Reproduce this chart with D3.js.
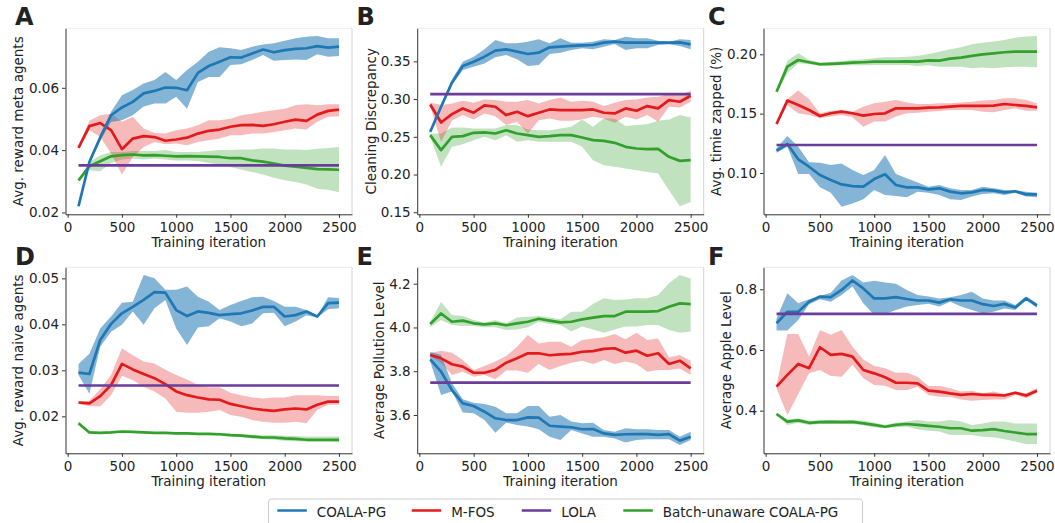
<!DOCTYPE html>
<html><head><meta charset="utf-8">
<script src="https://cdn.jsdelivr.net/npm/d3@7"></script>
<style>
body{margin:0;background:#fff}
svg{display:block}
text{font-family:"DejaVu Sans",sans-serif;fill:#222}
</style>
</head><body>
<svg id="chart" width="1055" height="523"></svg>
<script>
// ---------------- DATA ----------------
const iterations = [100,200,300,400,500,600,700,800,900,1000,1100,1200,1300,1400,1500,1600,1700,1800,1900,2000,2100,2200,2300,2400,2500];
const xTickValues = [0,500,1000,1500,2000,2500];
const seriesNames = ["COALA-PG","M-FOS","LOLA","Batch-unaware COALA-PG"];
const panelLetters = ["A","B","C","D","E","F"];
const yLabels = ["Avg. reward meta agents","Cleaning Discrepancy","Avg. timie zapped (%)","Avg. reward naive agents","Average Pollution Level","Average Apple Level"];
const xLabel = "Training iteration";
const yTicksA = [0.02,0.04,0.06];
const yTicksB = [0.15,0.20,0.25,0.30,0.35];
const yTicksC = [0.10,0.15,0.20];
const yTicksD = [0.02,0.03,0.04,0.05];
const yTicksE = [3.6,3.8,4.0,4.2];
const yTicksF = [0.4,0.6,0.8];
const lolaValues = [0.0351,0.3066,0.1236,0.0267,3.7477,0.7187];

// Panel A
const blueA   = [0.0220,0.0362,0.0440,0.0512,0.0537,0.0555,0.0582,0.0590,0.0601,0.0600,0.0592,0.0648,0.0670,0.0684,0.0698,0.0697,0.0710,0.0723,0.0714,0.0721,0.0725,0.0727,0.0734,0.0729,0.0732];
const blueA_lo= [0.0215,0.0355,0.0430,0.0490,0.0496,0.0512,0.0540,0.0550,0.0550,0.0571,0.0533,0.0619,0.0635,0.0635,0.0673,0.0676,0.0689,0.0705,0.0687,0.0689,0.0691,0.0689,0.0708,0.0700,0.0702];
const blueA_hi= [0.0225,0.0370,0.0450,0.0523,0.0576,0.0593,0.0614,0.0625,0.0651,0.0625,0.0657,0.0684,0.0716,0.0730,0.0727,0.0721,0.0732,0.0739,0.0743,0.0751,0.0759,0.0764,0.0766,0.0759,0.0759];
const redA    = [0.0407,0.0477,0.0487,0.0464,0.0403,0.0437,0.0445,0.0442,0.0430,0.0434,0.0440,0.0453,0.0462,0.0466,0.0475,0.0480,0.0481,0.0478,0.0483,0.0491,0.0498,0.0494,0.0514,0.0526,0.0530];
const redA_lo = [0.0404,0.0464,0.0442,0.0389,0.0322,0.0378,0.0410,0.0426,0.0419,0.0421,0.0416,0.0426,0.0432,0.0437,0.0448,0.0448,0.0453,0.0453,0.0458,0.0464,0.0469,0.0466,0.0491,0.0507,0.0509];
const redA_hi = [0.0410,0.0494,0.0512,0.0517,0.0491,0.0507,0.0469,0.0455,0.0453,0.0464,0.0469,0.0480,0.0496,0.0496,0.0501,0.0512,0.0517,0.0523,0.0528,0.0533,0.0544,0.0547,0.0544,0.0547,0.0547];
const greenA   = [0.0303,0.0348,0.0364,0.0380,0.0384,0.0386,0.0383,0.0384,0.0382,0.0380,0.0381,0.0380,0.0379,0.0378,0.0374,0.0374,0.0367,0.0363,0.0357,0.0350,0.0347,0.0343,0.0339,0.0338,0.0337];
const greenA_lo= [0.0300,0.0335,0.0332,0.0359,0.0370,0.0373,0.0370,0.0373,0.0370,0.0367,0.0367,0.0365,0.0359,0.0354,0.0346,0.0337,0.0330,0.0322,0.0311,0.0303,0.0298,0.0290,0.0276,0.0273,0.0265];
const greenA_hi= [0.0306,0.0362,0.0383,0.0394,0.0394,0.0397,0.0397,0.0397,0.0400,0.0394,0.0394,0.0394,0.0397,0.0400,0.0400,0.0402,0.0402,0.0405,0.0405,0.0402,0.0402,0.0400,0.0404,0.0407,0.0410];

// Panel B
const blueB   = [0.2566,0.2898,0.3217,0.3438,0.3496,0.3562,0.3642,0.3659,0.3628,0.3597,0.3615,0.3686,0.3695,0.3704,0.3712,0.3717,0.3748,0.3761,0.3748,0.3748,0.3748,0.3748,0.3748,0.3752,0.3726];
const blueB_lo= [0.2550,0.2870,0.3186,0.3385,0.3429,0.3473,0.3553,0.3584,0.3527,0.3438,0.3451,0.3597,0.3615,0.3650,0.3673,0.3659,0.3695,0.3730,0.3650,0.3673,0.3673,0.3717,0.3726,0.3704,0.3659];
const blueB_hi= [0.2580,0.2930,0.3261,0.3496,0.3562,0.3659,0.3783,0.3739,0.3739,0.3761,0.3792,0.3739,0.3805,0.3748,0.3748,0.3761,0.3792,0.3783,0.3827,0.3805,0.3805,0.3774,0.3761,0.3792,0.3783];
const redB    = [0.2929,0.2690,0.2801,0.2876,0.2819,0.2916,0.2898,0.2788,0.2832,0.2774,0.2819,0.2863,0.2854,0.2854,0.2854,0.2863,0.2819,0.2810,0.2876,0.2845,0.2907,0.2876,0.2987,0.2965,0.3044];
const redB_lo = [0.2910,0.2434,0.2712,0.2788,0.2730,0.2810,0.2774,0.2655,0.2699,0.2544,0.2721,0.2743,0.2712,0.2712,0.2730,0.2765,0.2743,0.2686,0.2765,0.2730,0.2788,0.2699,0.2898,0.2889,0.2965];
const redB_hi = [0.2950,0.2920,0.2942,0.2978,0.2951,0.2996,0.2987,0.2965,0.2965,0.2987,0.2942,0.2987,0.3022,0.2965,0.2978,0.2965,0.2907,0.2951,0.2987,0.2996,0.3022,0.3031,0.3066,0.3053,0.3111];
const greenB   = [0.2522,0.2323,0.2500,0.2509,0.2553,0.2558,0.2544,0.2588,0.2544,0.2522,0.2500,0.2509,0.2522,0.2522,0.2491,0.2456,0.2447,0.2420,0.2367,0.2345,0.2336,0.2341,0.2235,0.2181,0.2190];
const greenB_lo= [0.2500,0.2102,0.2367,0.2403,0.2456,0.2500,0.2456,0.2522,0.2434,0.2456,0.2434,0.2434,0.2434,0.2434,0.2367,0.2190,0.2124,0.2102,0.2080,0.2058,0.2035,0.2013,0.1792,0.1580,0.1637];
const greenB_hi= [0.2540,0.2544,0.2624,0.2624,0.2611,0.2611,0.2611,0.2655,0.2655,0.2597,0.2588,0.2588,0.2611,0.2633,0.2730,0.2633,0.2743,0.2743,0.2642,0.2655,0.2668,0.2712,0.2730,0.2788,0.2757];

// Panel C
const blueC   = [0.1188,0.1244,0.1115,0.1053,0.0983,0.0941,0.0904,0.0890,0.0885,0.0949,0.0989,0.0899,0.0879,0.0879,0.0862,0.0871,0.0843,0.0829,0.0837,0.0857,0.0851,0.0837,0.0846,0.0820,0.0820];
const blueC_lo= [0.1171,0.1222,0.0992,0.0992,0.0879,0.0834,0.0716,0.0744,0.0778,0.0857,0.0815,0.0806,0.0795,0.0843,0.0834,0.0815,0.0778,0.0772,0.0801,0.0823,0.0829,0.0815,0.0834,0.0801,0.0795];
const blueC_hi= [0.1208,0.1312,0.1222,0.1090,0.1087,0.1067,0.1081,0.1025,0.0983,0.1025,0.1152,0.0992,0.0955,0.0919,0.0885,0.0899,0.0871,0.0857,0.0857,0.0885,0.0871,0.0857,0.0851,0.0843,0.0834];
const redC    = [0.1413,0.1610,0.1573,0.1531,0.1480,0.1503,0.1517,0.1503,0.1483,0.1497,0.1503,0.1545,0.1545,0.1545,0.1551,0.1553,0.1559,0.1565,0.1565,0.1565,0.1567,0.1581,0.1573,0.1565,0.1553];
const redC_lo = [0.1405,0.1573,0.1503,0.1489,0.1461,0.1475,0.1489,0.1469,0.1390,0.1433,0.1433,0.1475,0.1503,0.1508,0.1517,0.1522,0.1531,0.1531,0.1531,0.1517,0.1511,0.1531,0.1545,0.1525,0.1525];
const redC_hi = [0.1421,0.1621,0.1694,0.1621,0.1503,0.1525,0.1531,0.1517,0.1559,0.1587,0.1601,0.1615,0.1593,0.1581,0.1581,0.1587,0.1587,0.1593,0.1601,0.1610,0.1615,0.1629,0.1629,0.1615,0.1587];
const greenC   = [0.1685,0.1896,0.1952,0.1933,0.1916,0.1919,0.1924,0.1930,0.1933,0.1938,0.1938,0.1938,0.1941,0.1938,0.1949,0.1947,0.1963,0.1972,0.1986,0.2000,0.2008,0.2017,0.2022,0.2022,0.2022];
const greenC_lo= [0.1675,0.1840,0.1924,0.1916,0.1902,0.1904,0.1907,0.1907,0.1907,0.1910,0.1910,0.1910,0.1910,0.1902,0.1907,0.1896,0.1896,0.1896,0.1882,0.1888,0.1882,0.1890,0.1896,0.1896,0.1890];
const greenC_hi= [0.1695,0.1947,0.2008,0.1952,0.1930,0.1935,0.1944,0.1952,0.1958,0.1966,0.1975,0.1975,0.1980,0.1986,0.2003,0.2022,0.2042,0.2059,0.2084,0.2098,0.2107,0.2121,0.2140,0.2149,0.2154];

// Panel D
const blueD   = [0.0295,0.0292,0.0366,0.0401,0.0424,0.0438,0.0453,0.0470,0.0469,0.0431,0.0418,0.0428,0.0425,0.0420,0.0422,0.0424,0.0430,0.0438,0.0438,0.0417,0.0420,0.0428,0.0417,0.0446,0.0447];
const blueD_lo= [0.0290,0.0249,0.0351,0.0384,0.0399,0.0428,0.0399,0.0435,0.0453,0.0391,0.0355,0.0393,0.0396,0.0413,0.0406,0.0396,0.0402,0.0424,0.0425,0.0396,0.0406,0.0420,0.0415,0.0433,0.0435];
const blueD_hi= [0.0314,0.0336,0.0391,0.0417,0.0447,0.0449,0.0507,0.0500,0.0475,0.0475,0.0482,0.0460,0.0449,0.0431,0.0442,0.0451,0.0459,0.0460,0.0451,0.0438,0.0438,0.0431,0.0418,0.0459,0.0457];
const redD    = [0.0230,0.0228,0.0244,0.0268,0.0314,0.0302,0.0292,0.0283,0.0270,0.0254,0.0246,0.0241,0.0237,0.0236,0.0227,0.0222,0.0217,0.0214,0.0212,0.0215,0.0217,0.0215,0.0225,0.0232,0.0232];
const redD_lo = [0.0227,0.0222,0.0222,0.0246,0.0288,0.0279,0.0264,0.0254,0.0239,0.0210,0.0208,0.0208,0.0210,0.0214,0.0203,0.0199,0.0192,0.0188,0.0186,0.0186,0.0188,0.0185,0.0214,0.0225,0.0225];
const redD_hi = [0.0233,0.0234,0.0259,0.0290,0.0348,0.0333,0.0319,0.0315,0.0301,0.0290,0.0280,0.0268,0.0263,0.0263,0.0251,0.0246,0.0241,0.0239,0.0241,0.0241,0.0246,0.0246,0.0246,0.0244,0.0244];
const greenD   = [0.0185,0.0165,0.0164,0.0165,0.0167,0.0166,0.0165,0.0164,0.0164,0.0163,0.0163,0.0162,0.0162,0.0161,0.0159,0.0158,0.0156,0.0154,0.0154,0.0152,0.0151,0.0149,0.0149,0.0149,0.0149];
const greenD_lo= [0.0181,0.0162,0.0162,0.0163,0.0165,0.0164,0.0163,0.0162,0.0162,0.0161,0.0161,0.0160,0.0159,0.0158,0.0156,0.0155,0.0152,0.0150,0.0149,0.0147,0.0146,0.0145,0.0145,0.0145,0.0144];
const greenD_hi= [0.0189,0.0167,0.0166,0.0167,0.0169,0.0168,0.0167,0.0166,0.0166,0.0165,0.0165,0.0164,0.0164,0.0163,0.0162,0.0161,0.0160,0.0159,0.0159,0.0158,0.0157,0.0156,0.0156,0.0156,0.0156];

// Panel E
const blueE   = [3.854,3.798,3.714,3.653,3.641,3.615,3.585,3.577,3.577,3.589,3.588,3.551,3.547,3.544,3.535,3.536,3.516,3.509,3.512,3.513,3.513,3.509,3.513,3.483,3.501];
const blueE_lo= [3.844,3.691,3.707,3.611,3.608,3.577,3.519,3.565,3.554,3.547,3.535,3.501,3.486,3.532,3.516,3.501,3.501,3.493,3.474,3.486,3.489,3.489,3.489,3.463,3.486];
const blueE_hi= [3.889,3.874,3.745,3.672,3.656,3.650,3.638,3.608,3.608,3.641,3.641,3.592,3.600,3.570,3.562,3.565,3.532,3.524,3.539,3.535,3.535,3.532,3.532,3.501,3.524];
const redE    = [3.874,3.859,3.832,3.821,3.793,3.793,3.806,3.839,3.859,3.882,3.882,3.873,3.877,3.879,3.889,3.892,3.902,3.905,3.885,3.894,3.871,3.882,3.833,3.848,3.813];
const redE_lo = [3.867,3.839,3.783,3.798,3.775,3.783,3.763,3.803,3.803,3.793,3.833,3.806,3.824,3.839,3.848,3.833,3.851,3.833,3.844,3.833,3.798,3.806,3.806,3.813,3.783];
const redE_hi = [3.882,3.894,3.885,3.851,3.806,3.824,3.844,3.870,3.912,3.966,3.927,3.935,3.935,3.912,3.943,3.950,3.955,3.970,3.946,3.976,3.943,3.950,3.863,3.874,3.848];
const greenE   = [4.016,4.064,4.026,4.031,4.019,4.014,4.019,4.010,4.019,4.026,4.040,4.031,4.023,4.026,4.037,4.045,4.052,4.052,4.072,4.072,4.072,4.075,4.095,4.110,4.107];
const greenE_lo= [4.001,4.034,4.011,4.007,4.007,4.001,4.001,3.988,3.991,4.001,4.026,4.016,4.011,3.981,4.004,3.991,3.976,3.991,4.004,4.004,4.011,4.011,3.988,3.976,3.981];
const greenE_hi= [4.026,4.116,4.057,4.052,4.034,4.022,4.034,4.019,4.046,4.049,4.052,4.046,4.037,4.072,4.072,4.107,4.133,4.125,4.128,4.133,4.133,4.148,4.202,4.240,4.224];

// Panel F
const blueF   = [0.688,0.726,0.726,0.759,0.776,0.774,0.798,0.829,0.803,0.770,0.770,0.774,0.768,0.763,0.763,0.756,0.767,0.763,0.763,0.751,0.745,0.752,0.740,0.770,0.746];
const blueF_lo= [0.664,0.664,0.699,0.751,0.767,0.759,0.781,0.809,0.754,0.715,0.719,0.732,0.743,0.748,0.752,0.743,0.759,0.743,0.732,0.721,0.726,0.737,0.732,0.765,0.740];
const blueF_hi= [0.704,0.787,0.754,0.767,0.778,0.789,0.829,0.847,0.822,0.828,0.822,0.818,0.798,0.781,0.776,0.770,0.774,0.781,0.792,0.770,0.763,0.763,0.748,0.776,0.754];
const redF    = [0.479,0.518,0.554,0.540,0.609,0.584,0.587,0.578,0.534,0.523,0.510,0.492,0.492,0.490,0.466,0.463,0.457,0.452,0.455,0.452,0.452,0.450,0.459,0.450,0.466];
const redF_lo = [0.474,0.386,0.455,0.523,0.534,0.514,0.512,0.551,0.507,0.485,0.482,0.468,0.468,0.479,0.452,0.446,0.446,0.437,0.433,0.435,0.437,0.437,0.452,0.441,0.459];
const redF_hi = [0.485,0.653,0.653,0.578,0.666,0.650,0.666,0.611,0.569,0.547,0.540,0.525,0.525,0.512,0.481,0.481,0.474,0.463,0.466,0.457,0.463,0.455,0.463,0.457,0.474];
const greenF   = [0.389,0.364,0.368,0.360,0.362,0.363,0.362,0.363,0.358,0.353,0.347,0.353,0.356,0.353,0.350,0.347,0.342,0.342,0.334,0.336,0.339,0.333,0.328,0.323,0.323];
const greenF_lo= [0.386,0.353,0.360,0.353,0.356,0.356,0.356,0.356,0.352,0.345,0.342,0.345,0.347,0.339,0.334,0.331,0.320,0.320,0.320,0.314,0.312,0.306,0.298,0.290,0.290];
const greenF_hi= [0.392,0.371,0.375,0.367,0.369,0.369,0.369,0.369,0.367,0.360,0.353,0.360,0.364,0.369,0.364,0.364,0.369,0.364,0.353,0.358,0.364,0.364,0.358,0.358,0.358];

// ---------------- STYLE / LAYOUT ----------------
const colors = {blue:"#1f78b4", red:"#e31a1c", purple:"#6a3d9a", green:"#33a02c"};
const bandAlpha = {blue:0.55, red:0.3, green:0.3};
const colLeft = [65.5, 417.2, 763.5];
const rowTop = [28.3, 267.3];
const axW = 286.5, axH = 186;

const panels = [
  {blue:[blueA,blueA_lo,blueA_hi], red:[redA,redA_lo,redA_hi], green:[greenA,greenA_lo,greenA_hi], yDom:[0.0194,0.0791], yTicks:yTicksA, fmt:".2f", ylabOff:47.2},
  {blue:[blueB,blueB_lo,blueB_hi], red:[redB,redB_lo,redB_hi], green:[greenB,greenB_lo,greenB_hi], yDom:[0.1473,0.3938], yTicks:yTicksB, fmt:".2f", ylabOff:46.4},
  {blue:[blueC,blueC_lo,blueC_hi], red:[redC,redC_lo,redC_hi], green:[greenC,greenC_lo,greenC_hi], yDom:[0.0652,0.2219], yTicks:yTicksC, fmt:".2f", ylabOff:47.7},
  {blue:[blueD,blueD_lo,blueD_hi], red:[redD,redD_lo,redD_hi], green:[greenD,greenD_lo,greenD_hi], yDom:[0.01196,0.0524], yTicks:yTicksD, fmt:".2f", ylabOff:47.2},
  {blue:[blueE,blueE_lo,blueE_hi], red:[redE,redE_lo,redE_hi], green:[greenE,greenE_lo,greenE_hi], yDom:[3.425,4.2749], yTicks:yTicksE, fmt:".1f", ylabOff:38.4},
  {blue:[blueF,blueF_lo,blueF_hi], red:[redF,redF_lo,redF_hi], green:[greenF,greenF_lo,greenF_hi], yDom:[0.2595,0.8725], yTicks:yTicksF, fmt:".1f", ylabOff:37.7}
];
const letterPos = [[15,25],[356.5,25],[708,25],[15,265],[356.5,265],[708,265]];

const svg = d3.select("#chart");
const fontSize = 13.5;

panels.forEach((p, i) => {
  const col = i % 3, row = Math.floor(i / 3);
  const left = colLeft[col], top = rowTop[row];
  const g = svg.append("g").attr("transform", `translate(${left},${top})`);
  const x = d3.scaleLinear().domain([-20, 2620]).range([0, axW]);
  const y = d3.scaleLinear().domain(p.yDom).range([axH, 0]);

  // faint top / right spines
  g.append("line").attr("x1",0).attr("x2",axW).attr("y1",0).attr("y2",0).attr("stroke","#ececec").attr("stroke-width",1);
  g.append("line").attr("x1",axW).attr("x2",axW).attr("y1",0).attr("y2",axH).attr("stroke","#d4d4d4").attr("stroke-width",1);

  const area = d3.area().x((d,k)=>x(iterations[k])).y0(d=>y(d[0])).y1(d=>y(d[1]));
  const line = d3.line().x((d,k)=>x(iterations[k])).y(d=>y(d));

  ["green","red","blue"].forEach(s => {
    const [m, lo, hi] = p[s];
    g.append("path").datum(lo.map((v,k)=>[v, hi[k]]))
      .attr("d", area).attr("fill", colors[s]).attr("fill-opacity", bandAlpha[s]).attr("stroke","none");
  });
  ["green","red","blue"].forEach(s => {
    g.append("path").datum(p[s][0]).attr("d", line)
      .attr("fill","none").attr("stroke", colors[s]).attr("stroke-width", 2.7)
      .attr("stroke-linejoin","round").attr("stroke-linecap","butt");
  });
  // LOLA constant
  const lola = iterations.map(() => lolaValues[i]);
  g.append("path").datum(lola).attr("d", line)
    .attr("fill","none").attr("stroke", colors.purple).attr("stroke-width", 2.7);

  // axes
  const xa = g.append("g").attr("transform", `translate(0,${axH})`)
    .call(d3.axisBottom(x).tickValues(xTickValues).tickFormat(d3.format("d")).tickSize(3.5).tickSizeOuter(0).tickPadding(5));
  const ya = g.append("g")
    .call(d3.axisLeft(y).tickValues(p.yTicks).tickFormat(d3.format(p.fmt)).tickSize(3.5).tickSizeOuter(0).tickPadding(3));
  [xa, ya].forEach(a => {
    a.select(".domain").attr("stroke","#333").attr("stroke-width",1);
    a.selectAll(".tick line").attr("stroke","#333").attr("stroke-width",1);
    a.selectAll(".tick text").attr("font-size", fontSize).attr("font-family","DejaVu Sans").attr("fill","#222");
  });

  // axis labels
  g.append("text").attr("x", axW/2).attr("y", axH + 33).attr("text-anchor","middle")
    .attr("font-size", fontSize).text(xLabel);
  g.append("text").attr("transform", `translate(${-p.ylabOff},${axH/2}) rotate(-90)`)
    .attr("text-anchor","middle").attr("dominant-baseline","central")
    .attr("font-size", fontSize).text(yLabels[i]);

  // panel letter
  svg.append("text").attr("x", letterPos[i][0]).attr("y", letterPos[i][1])
    .attr("font-family","'Liberation Sans', Arial, sans-serif").attr("font-weight","bold")
    .attr("font-size", 24).attr("fill","#111").text(panelLetters[i]);
});

// legend
const legend = svg.append("g");
legend.append("rect").attr("x",268.5).attr("y",499).attr("width",594).attr("height",34).attr("rx",3)
  .attr("fill","#fff").attr("stroke","#cccccc").attr("stroke-width",1);
const legendColors = [colors.blue, colors.red, colors.purple, colors.green];
const legendX = [277.3, 411.7, 521.7, 623.3];
seriesNames.forEach((name, k) => {
  legend.append("line").attr("x1", legendX[k]).attr("x2", legendX[k] + 29.5)
    .attr("y1", 510.5).attr("y2", 510.5).attr("stroke", legendColors[k]).attr("stroke-width", 2.5);
  legend.append("text").attr("x", legendX[k] + 39.5).attr("y", 516.5)
    .attr("font-size", fontSize).text(name);
});
</script>
</body></html>
